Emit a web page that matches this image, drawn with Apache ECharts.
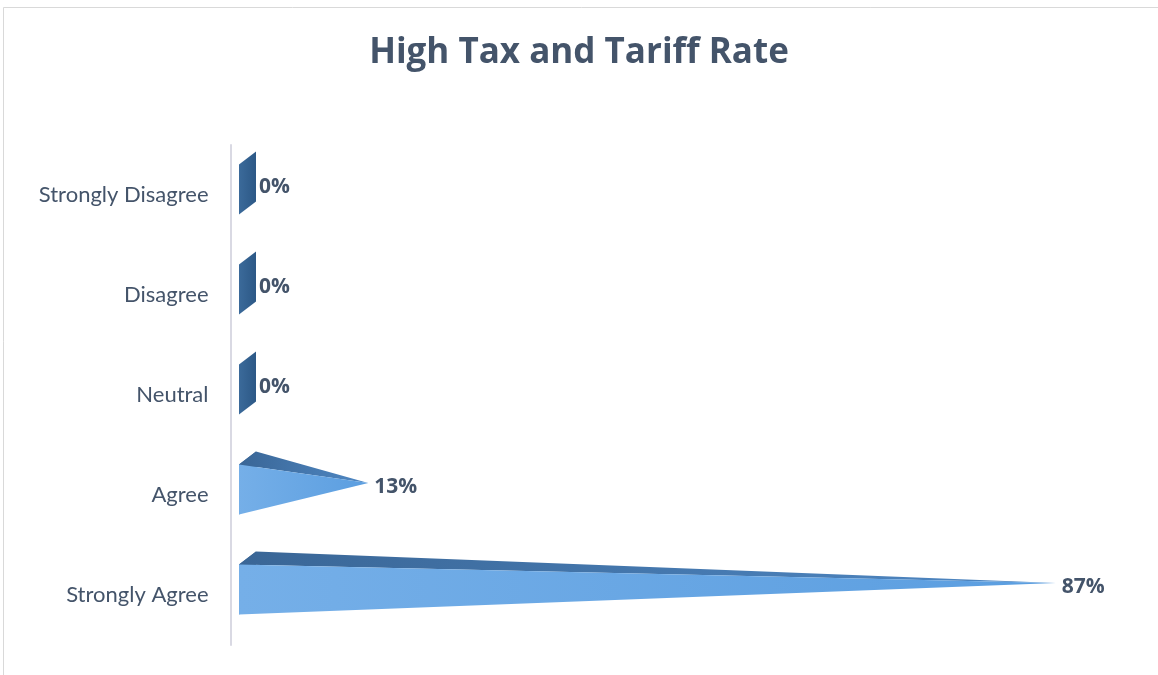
<!DOCTYPE html>
<html>
<head>
<meta charset="utf-8">
<script src="https://cdn.jsdelivr.net/npm/echarts@6/dist/echarts.min.js"></script>
<style>
  html, body { margin: 0; padding: 0; background: #ffffff; }
  #chart { width: 1158px; height: 675px; }
</style>
</head>
<body>
<div id="chart"></div>
<script>
// Survey responses: share of respondents per answer (percent)
const categories = ['Strongly Disagree', 'Disagree', 'Neutral', 'Agree', 'Strongly Agree'];
const shares = [0, 0, 0, 13, 87];
const titleText = 'High Tax and Tariff Rate';

const TEXT_COLOR = '#44546a';

const chart = echarts.init(document.getElementById('chart'));

// Depth offset of the pyramid base (pseudo-3D projection)
const DEPTH_X = 17;
const DEPTH_Y = -13;

function grad(c0, c1) {
  return new echarts.graphic.LinearGradient(0, 0, 1, 0, [
    { offset: 0, color: c0 },
    { offset: 1, color: c1 }
  ]);
}

function renderPyramid(params, api) {
  const value = api.value(0);
  const idx = api.value(1);
  const origin = api.coord([0, idx]);
  const tip = api.coord([value, idx]);
  const band = api.size([0, 1])[1];
  const edge = band * 0.5;

  // centre of the square base, apex lies on the same line
  const cx = origin[0];
  const cy = origin[1] - 12;
  const fx = cx - DEPTH_X / 2;
  const fyTop = cy - DEPTH_Y / 2 - edge / 2;
  const fyBot = fyTop + edge;
  const apex = [tip[0], cy];

  const children = [];
  // base square (only face visible when the value is zero)
  children.push({
    type: 'polygon',
    shape: { points: [[fx, fyTop], [fx + DEPTH_X, fyTop + DEPTH_Y], [fx + DEPTH_X, fyBot + DEPTH_Y], [fx, fyBot]] },
    style: { fill: grad('#3b6a9a', '#2c5886') }
  });
  if (value > 0) {
    // upper face
    children.push({
      type: 'polygon',
      shape: { points: [[fx, fyTop], [fx + DEPTH_X, fyTop + DEPTH_Y], apex] },
      style: { fill: grad('#3a6696', '#4f88c4') }
    });
    // front face
    children.push({
      type: 'polygon',
      shape: { points: [[fx, fyTop], [fx, fyBot], apex] },
      style: { fill: grad('#75afe8', '#5b9ee0') }
    });
  }
  // data label just beyond the apex (or beyond the flat base for zero)
  children.push({
    type: 'text',
    style: {
      text: value + '%',
      x: Math.max(apex[0] + 6, fx + DEPTH_X + 3),
      y: cy + 4,
      verticalAlign: 'middle',
      align: 'left',
      fill: TEXT_COLOR,
      font: 'bold 21px "Open Sans", sans-serif'
    }
  });
  return { type: 'group', children: children };
}

chart.setOption({
  backgroundColor: '#ffffff',
  animation: false,
  title: {
    text: titleText,
    left: 'center',
    top: 31,
    textStyle: { color: TEXT_COLOR, fontFamily: '"Open Sans", sans-serif', fontWeight: 'bold', fontSize: 35 }
  },
  graphic: [{
    type: 'rect',
    shape: { x: 3.5, y: 7.5, width: 1170, height: 700 },
    style: { fill: 'none', stroke: '#d9d9d9', lineWidth: 1 },
    silent: true
  }],
  grid: { left: 247.5, top: 145, right: 0, height: 500 },
  // the value range runs a little past the right edge of the canvas
  xAxis: { type: 'value', min: 0, max: 98, show: false },
  yAxis: {
    type: 'category',
    data: categories,
    inverse: true,
    offset: 17,
    axisLine: { show: true, onZero: false, lineStyle: { color: '#d9d9e3', width: 2 } },
    axisTick: { show: false },
    axisLabel: { color: TEXT_COLOR, fontFamily: 'Lato, sans-serif', fontSize: 22, margin: 22, padding: [4, 0, 0, 0] }
  },
  series: [{
    type: 'custom',
    renderItem: renderPyramid,
    encode: { x: 0, y: 1 },
    data: shares.map((v, i) => [v, i]),
    clip: false
  }]
});
</script>
</body>
</html>
